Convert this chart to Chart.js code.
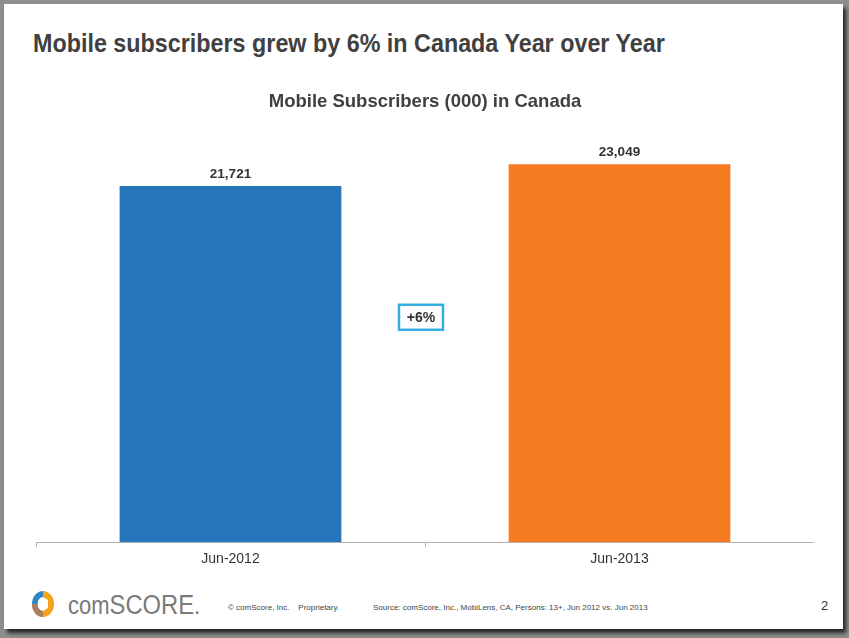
<!DOCTYPE html>
<html>
<head>
<meta charset="utf-8">
<script src="https://cdn.jsdelivr.net/npm/chart.js@4.4.0/dist/chart.umd.min.js"></script>
<style>
  html, body { margin: 0; padding: 0; width: 849px; height: 638px; overflow: hidden; background: #8e8e8e; }
  #slide { position: absolute; left: 4px; top: 4px; width: 839px; height: 625px; background: #fff;
           box-shadow: 3px 4px 4px rgba(0,0,0,0.75); }
  #title { position: absolute; left: 33px; top: 29px; font: bold 25px "Liberation Sans", Arial, sans-serif;
           color: #404040; white-space: nowrap; transform: scaleX(0.933); transform-origin: left top; }
  #chartbox { position: absolute; left: 36px; top: 80px; width: 778px; height: 492px; }
  .foot { position: absolute; font-family: "Liberation Sans", Arial, sans-serif; color: #444; white-space: nowrap; }
  #brand { position: absolute; left: 68px; top: 590px; font: 25px "Liberation Sans", Arial, sans-serif; color: #7a7a7a;
           transform: scaleX(0.88); transform-origin: left top; white-space: nowrap; }
  #brand .sc { font-size: 27px; position: relative; top: 0px; }
</style>
</head>
<body>
<div id="slide"></div>
<div id="title">Mobile subscribers grew by 6% in Canada Year over Year</div>
<div id="chartbox"><canvas id="c" width="778" height="492"></canvas></div>
<svg style="position:absolute;left:31px;top:589px" width="24" height="30" viewBox="0 0 24 30">
  <path d="M12 2 A11 13 0 0 0 12 28 L12 22 A5.5 7 0 0 1 12 8 Z" fill="#2a86c8"/>
  <path d="M12 2 A11 13 0 0 1 12 28 L12 22 L17 19 L17 11 L12 8 Z" fill="#f7a21b"/>
  <path d="M12 22 A5.5 7 0 0 1 6.5 15 L1 15 A11 13 0 0 0 12 28 Z" fill="#f47b20" opacity="0.65"/>
</svg>
<div id="brand">com<span class="sc">SCORE</span>.</div>
<div class="foot" style="left:228px;top:603px;font-size:8px;">© comScore, Inc.&nbsp;&nbsp;&nbsp; Proprietary.</div>
<div class="foot" style="left:373px;top:603px;font-size:8px;">Source: comScore, Inc., MobiLens, CA, Persons: 13+, Jun 2012 vs. Jun 2013</div>
<div class="foot" style="left:821px;top:598px;font-size:13px;color:#333;">2</div>
<script>
const categories = ["Jun-2012", "Jun-2013"];
const subscribers = [21721, 23049];
const barColors = ["#2674ba", "#f47b20"];
const chartTitle = "Mobile Subscribers (000) in Canada";
const yMax = 25000;

const FONT = '"Liberation Sans", Arial, sans-serif';

const labelPlugin = {
  id: 'valueLabels',
  afterDatasetsDraw(chart) {
    const ctx = chart.ctx;
    const meta = chart.getDatasetMeta(0);
    ctx.save();
    ctx.font = 'bold 13.5px ' + FONT;
    ctx.fillStyle = '#333';
    ctx.textAlign = 'center';
    ctx.textBaseline = 'bottom';
    meta.data.forEach((bar, i) => {
      ctx.fillText(subscribers[i].toLocaleString('en-US'), bar.x, bar.y - 5);
    });
    // growth box between bars
    const growth = Math.round((subscribers[1] / subscribers[0] - 1) * 100);
    const txt = '+' + growth + '%';
    const x = chart.scales.x.getPixelForValue(0.5) - 4;
    const y = chart.scales.y.getPixelForValue(yMax * 0.5486);
    const w = 44, h = 25;
    ctx.strokeStyle = '#36aee0';
    ctx.lineWidth = 2.5;
    ctx.strokeRect(x - w / 2, y - h / 2, w, h);
    ctx.font = 'bold 14px ' + FONT;
    ctx.textBaseline = 'middle';
    ctx.fillText(txt, x, y + 1);
    ctx.restore();
  }
};

new Chart(document.getElementById('c'), {
  type: 'bar',
  data: {
    labels: categories,
    datasets: [{
      data: subscribers,
      backgroundColor: barColors,
      borderWidth: 0,
      categoryPercentage: 0.57,
      barPercentage: 1.0
    }]
  },
  options: {
    responsive: false,
    animation: false,
    layout: { padding: { top: 11, left: 0, right: 0, bottom: 0 } },
    plugins: {
      legend: { display: false },
      tooltip: { enabled: false },
      title: {
        display: true,
        text: chartTitle,
        color: '#404040',
        font: { family: FONT, size: 18.5, weight: 'bold' },
        padding: { top: 0, bottom: 19 }
      }
    },
    scales: {
      x: {
        grid: { display: true, drawOnChartArea: false, drawTicks: true, tickLength: 5, color: '#b5b5b5' },
        border: { display: true, color: '#b5b5b5', width: 1 },
        ticks: { color: '#333', font: { family: FONT, size: 14 }, padding: 4 }
      },
      y: {
        display: false,
        min: 0,
        max: yMax
      }
    }
  },
  plugins: [labelPlugin]
});
</script>
</body>
</html>
